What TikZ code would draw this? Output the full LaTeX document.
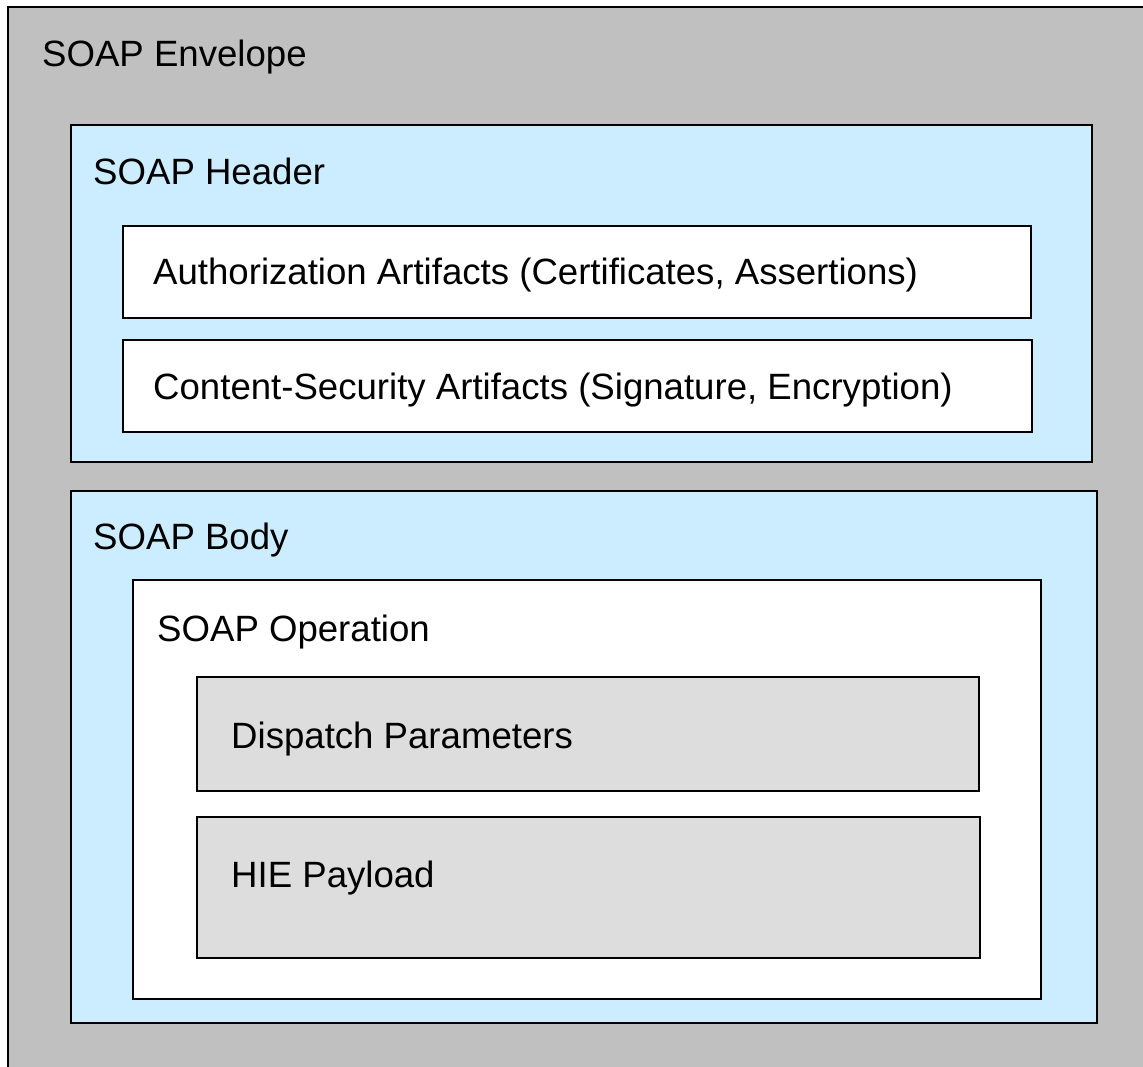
\documentclass[tikz,border=0pt]{standalone}
\usepackage{fontspec}
\setmainfont{Liberation Sans}
\definecolor{envgray}{HTML}{C0C0C0}
\definecolor{paleblue}{HTML}{CCECFF}
\definecolor{lightgray}{HTML}{DDDDDD}
\begin{document}
\begin{tikzpicture}[x=1pt,y=-1pt,
  box/.style={draw=black, line width=2.2pt, anchor=north west, inner sep=0pt, outer sep=0pt},
  label/.style={anchor=base west, inner sep=0pt, font=\fontsize{36.6}{43}\selectfont}]
\useasboundingbox (0,0) rectangle (1143,1067);
\clip (0,0) rectangle (1143,1067);
% envelope (runs past the right and bottom edges)
\node[box, fill=envgray, minimum width=1180pt, minimum height=1100pt] (env) at (8,7) {};
\node[label] (envl) at (42,67) {SOAP Envelope};
% header with its two security blocks
\node[box, fill=paleblue, minimum width=1021pt, minimum height=337pt] (hdr) at (71,125) {};
\node[label] (hdrl) at (93,185) {SOAP Header};
\node[box, fill=white, minimum width=908pt, minimum height=92pt] (auth) at (123,226) {};
\node[label] (authl) at (153,285) {Authorization Artifacts (Certificates, Assertions)};
\node[box, fill=white, minimum width=909pt, minimum height=92pt] (csec) at (123,340) {};
\node[label] (csecl) at (153,399) {Content-Security Artifacts (Signature, Encryption)};
% body with the operation and its parts
\node[box, fill=paleblue, minimum width=1026pt, minimum height=532pt] (body) at (71,491) {};
\node[label] (bodyl) at (93,549) {SOAP Body};
\node[box, fill=white, minimum width=908pt, minimum height=419pt] (op) at (133,580) {};
\node[label] (opl) at (157,641) {SOAP Operation};
\node[box, fill=lightgray, minimum width=782pt, minimum height=114pt] (disp) at (197,677) {};
\node[label] (displ) at (231,748) {Dispatch Parameters};
\node[box, fill=lightgray, minimum width=783pt, minimum height=141pt] (hie) at (197,817) {};
\node[label] (hiel) at (231,887) {HIE Payload};
\end{tikzpicture}
\end{document}
